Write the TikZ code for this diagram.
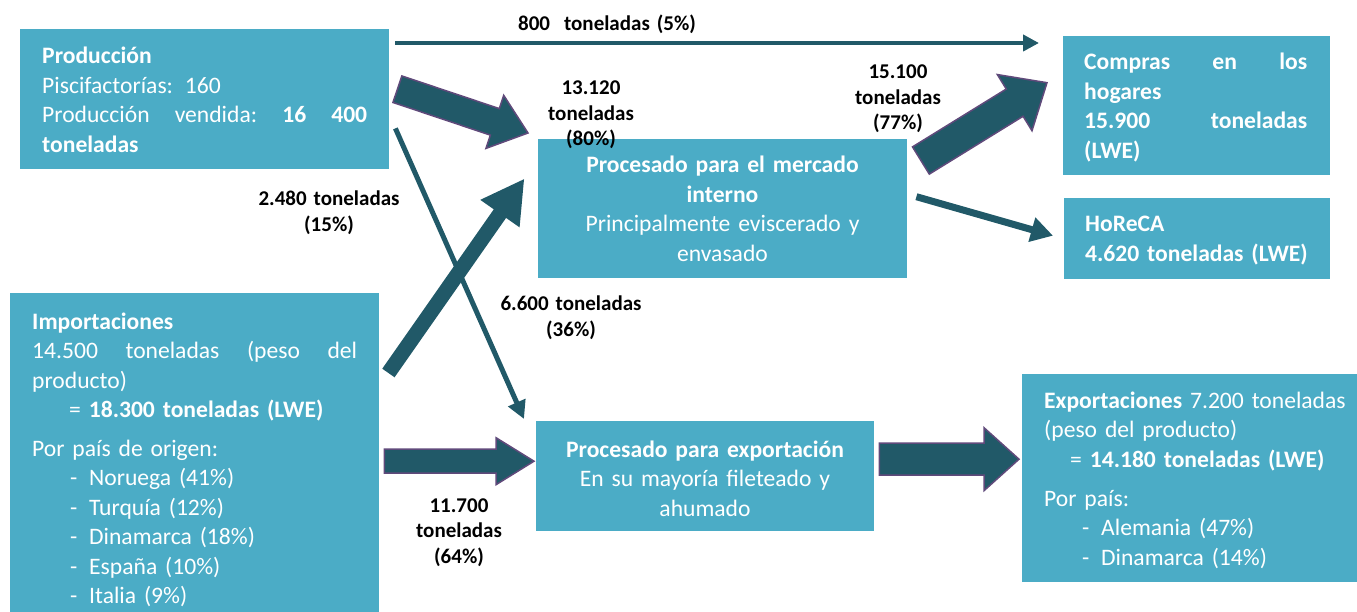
\documentclass[tikz,border=0pt]{standalone}
\usepackage{fontspec}
\setmainfont{Carlito}
\usetikzlibrary{positioning}
\usetikzlibrary{arrows.meta, calc}

\definecolor{cajaazul}{HTML}{4BACC6}
\definecolor{flechaosc}{HTML}{215968}
\definecolor{bordemorado}{HTML}{604A7B}

\newcommand{\letracaja}{\fontsize{23.6pt}{29.5pt}\selectfont}
\newcommand{\letracifra}{\fontsize{21pt}{25.5pt}\selectfont\bfseries}
\newcommand{\guion}[1]{\hspace*{38pt}\makebox[19pt][l]{-}#1}

% flecha gruesa: [estilo]{inicio}{punta}{medio ancho}{medio ancho punta}{largo punta}
\newcommand{\flechagorda}[6][]{%
  \coordinate (cuello) at ($(#3)!#6!(#2)$);
  \path[#1] ($(#2)!#4!90:(#3)$) -- ($(cuello)!#4!90:(#3)$) -- ($(cuello)!#5!90:(#3)$) -- (#3)
    -- ($(cuello)!#5!-90:(#3)$) -- ($(cuello)!#4!-90:(#3)$) -- ($(#2)!#4!-90:(#3)$) -- cycle;}

\begin{document}
\begin{tikzpicture}[x=1pt,y=-1pt,every node/.style={inner sep=0pt},
  caja/.style={fill=cajaazul,anchor=north west},
  texto/.style={text=white,anchor=base west,align=left,font=\letracaja},
  textocentro/.style={text=white,anchor=base,align=center,font=\letracaja},
  cifra/.style={anchor=base,align=center,text width=200pt,font=\letracifra},
  fina/.style={draw=flechaosc,line width=4.5pt,-{Triangle[length=16pt,width=16pt]}},
  gorda/.style={fill=flechaosc},
  gordaborde/.style={fill=flechaosc,draw=bordemorado,line width=1.5pt,line join=miter},]
    \useasboundingbox (0,0) rectangle (1357,612);
    % create the nodes
        \node[caja,minimum width=369pt,minimum height=140pt] (prod) at (20,29) {};
        \node[caja,minimum width=369pt,minimum height=139pt] (merc) at (538,139) {};
        \node[caja,minimum width=267pt,minimum height=139pt] (compras) at (1063,36) {};
        \node[caja,minimum width=266pt,minimum height=81pt] (horeca) at (1064,198) {};
        \node[caja,minimum width=369pt,minimum height=322pt] (import) at (10,293) {};
        \node[caja,minimum width=338pt,minimum height=110pt] (expo) at (536,421) {};
        \node[caja,minimum width=340pt,minimum height=208pt] (export) at (1022,374) {};
    % texts of the boxes
        \node[texto,text width=325pt] (prodtxt) at (42,64) {\textbf{Producción}\\
            Piscifactorías: 160\\
            Producción\hfill vendida:\hfill \textbf{16}\hfill \textbf{400}\\
            \textbf{toneladas}};
        \node[textocentro,text width=360pt] (merctxt) at (722.5,173) {\textbf{Procesado para el mercado}\\
            \textbf{interno}\\ Principalmente eviscerado y\\ envasado};
        \node[texto,font=\letracaja\bfseries,text width=223pt] (comprastxt) at (1084,70) {Compras\hfill en\hfill los\\
            hogares\\ 15.900\hfill toneladas\\ (LWE)};
        \node[texto,font=\letracaja\bfseries,text width=240pt] (horecatxt) at (1085,232) {HoReCA\\ 4.620 toneladas (LWE)};
        \node[texto,text width=325pt] (importtxt) at (32,329) {\textbf{Importaciones}\\
            14.500\hfill toneladas\hfill (peso\hfill del\\
            producto)\\
            \hspace*{37pt}= \textbf{18.300 toneladas (LWE)}\\[9pt]
            Por país de origen:\\
            \guion{Noruega (41\%)}\\ \guion{Turquía (12\%)}\\ \guion{Dinamarca (18\%)}\\
            \guion{España (10\%)}\\ \guion{Italia (9\%)}};
        \node[textocentro,text width=330pt] (expotxt) at (705,457) {\textbf{Procesado para exportación}\\
            En su mayoría fileteado y\\ ahumado};
        \node[texto,text width=330pt] (exporttxt) at (1044,408) {\textbf{Exportaciones} 7.200 toneladas\\
            (peso del producto)\\
            \hspace*{26pt}= \textbf{14.180 toneladas (LWE)}\\[9.5pt]
            Por país:\\ \guion{Alemania (47\%)}\\ \guion{Dinamarca (14\%)}};
    % thin arrows
        \draw[fina] ([xshift=6pt,yshift=-14pt]prod.north east) -- ([xshift=-24pt,yshift=-7pt]compras.north west);
        \draw[fina,line width=5pt,-{Triangle[length=18pt,width=18pt]}] ([xshift=6pt,yshift=41pt]prod.south east) -- ([xshift=-12pt,yshift=2pt]expo.north west);
        \draw[fina,line width=7pt,-{Triangle[length=22pt,width=24pt]}] ([xshift=9pt,yshift=12pt]merc.east) -- ([xshift=-11pt,yshift=3pt]horeca.west);
    % thick arrows
        \coordinate (g1a) at ([xshift=8pt,yshift=10pt]prod.east);
        \coordinate (g1b) at ([xshift=-10pt,yshift=6pt]merc.north west);
        \coordinate (g2a) at ([xshift=9pt,yshift=-80pt]import.north east);
        \coordinate (g2b) at ([xshift=-14pt,yshift=29.5pt]merc.west);
        \coordinate (g3a) at ([xshift=13.5pt,yshift=-21.5pt]merc.north east);
        \coordinate (g3b) at ([xshift=-16pt,yshift=23pt]compras.west);
        \coordinate (g4a) at ([xshift=5pt,yshift=-7pt]import.east);
        \coordinate (g4b) at ([xshift=-2pt,yshift=15pt]expo.west);
        \coordinate (g5a) at ([xshift=5pt,yshift=17pt]expo.east);
        \coordinate (g5b) at ([xshift=-3pt,yshift=19pt]export.west);
        \flechagorda[gordaborde]{g1a}{g1b}{14pt}{28pt}{35pt}
        \flechagorda[gorda]{g2a}{g2b}{7.5pt}{24pt}{42pt}
        \flechagorda[gordaborde]{g3a}{g3b}{16pt}{33pt}{38pt}
        \flechagorda[gordaborde]{g4a}{g4b}{12pt}{23.5pt}{38pt}
        \flechagorda[gordaborde]{g5a}{g5b}{16pt}{31.5pt}{35pt}
    % flow figures
        \node[cifra] (c800) at (607,31) {800\ \ toneladas (5\%)};
        \node[cifra] (c13120) at (591,95) {13.120\\ toneladas\\ (80\%)};
        \node[cifra] (c15100) at (898,79) {15.100\\ toneladas\\ (77\%)};
        \node[cifra] (c2480) at (329,206) {2.480 toneladas\\ (15\%)};
        \node[cifra] (c6600) at (571,311) {6.600 toneladas\\ (36\%)};
        \node[cifra] (c11700) at (459,512) {11.700\\ toneladas\\ (64\%)};
\end{tikzpicture}
\end{document}
